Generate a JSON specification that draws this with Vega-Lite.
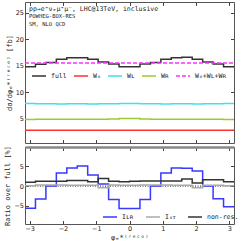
{
  "$schema": "https://vega.github.io/schema/vega-lite/v6.json",
  "padding": {"left": 3, "top": 1, "right": 3, "bottom": 2},
  "background": "white",
  "spacing": 0,
  "datasets": {
    "bins": [
      {"bin": 1, "x0": -3.1416, "x1": -2.8274, "full": 14.8, "W0": 2.8, "WL": 7.85, "WR": 4.85, "sum": 15.5, "ILR": -5.6, "I0T": 0.1, "nonres": 1.0},
      {"bin": 2, "x0": -2.8274, "x1": -2.5133, "full": 15.25, "W0": 2.8, "WL": 7.8, "WR": 4.9, "sum": 15.5, "ILR": -3.25, "I0T": 0.3, "nonres": 1.25},
      {"bin": 3, "x0": -2.5133, "x1": -2.1991, "full": 15.6, "W0": 2.8, "WL": 7.8, "WR": 4.9, "sum": 15.5, "ILR": 0.0, "I0T": 0.3, "nonres": 1.25},
      {"bin": 4, "x0": -2.1991, "x1": -1.885, "full": 16.2, "W0": 2.8, "WL": 7.75, "WR": 4.9, "sum": 15.5, "ILR": 3.3, "I0T": 0.3, "nonres": 1.25},
      {"bin": 5, "x0": -1.885, "x1": -1.5708, "full": 16.5, "W0": 2.8, "WL": 7.8, "WR": 4.9, "sum": 15.5, "ILR": 4.6, "I0T": 0.2, "nonres": 1.4},
      {"bin": 6, "x0": -1.5708, "x1": -1.2566, "full": 16.5, "W0": 2.8, "WL": 7.8, "WR": 4.9, "sum": 15.5, "ILR": 5.1, "I0T": 0.2, "nonres": 1.4},
      {"bin": 7, "x0": -1.2566, "x1": -0.9425, "full": 16.2, "W0": 2.8, "WL": 7.75, "WR": 4.9, "sum": 15.5, "ILR": 2.8, "I0T": 0.2, "nonres": 1.1},
      {"bin": 8, "x0": -0.9425, "x1": -0.6283, "full": 15.7, "W0": 2.8, "WL": 7.8, "WR": 4.9, "sum": 15.5, "ILR": 0.5, "I0T": -0.4, "nonres": 1.9},
      {"bin": 9, "x0": -0.6283, "x1": -0.3142, "full": 15.3, "W0": 2.8, "WL": 7.8, "WR": 4.95, "sum": 15.5, "ILR": -3.4, "I0T": 0.3, "nonres": 1.2},
      {"bin": 10, "x0": -0.3142, "x1": 0.0, "full": 14.8, "W0": 2.8, "WL": 7.85, "WR": 5.0, "sum": 15.5, "ILR": -5.7, "I0T": 0.2, "nonres": 1.1},
      {"bin": 11, "x0": 0.0, "x1": 0.3142, "full": 14.8, "W0": 2.8, "WL": 7.85, "WR": 5.0, "sum": 15.5, "ILR": -5.7, "I0T": 0.2, "nonres": 1.2},
      {"bin": 12, "x0": 0.3142, "x1": 0.6283, "full": 15.3, "W0": 2.8, "WL": 7.8, "WR": 4.95, "sum": 15.5, "ILR": -3.4, "I0T": 0.3, "nonres": 1.3},
      {"bin": 13, "x0": 0.6283, "x1": 0.9425, "full": 15.6, "W0": 2.8, "WL": 7.8, "WR": 4.9, "sum": 15.5, "ILR": 0.0, "I0T": 0.3, "nonres": 1.3},
      {"bin": 14, "x0": 0.9425, "x1": 1.2566, "full": 16.2, "W0": 2.8, "WL": 7.75, "WR": 4.9, "sum": 15.5, "ILR": 3.3, "I0T": 0.3, "nonres": 1.3},
      {"bin": 15, "x0": 1.2566, "x1": 1.5708, "full": 16.5, "W0": 2.8, "WL": 7.8, "WR": 4.9, "sum": 15.5, "ILR": 4.6, "I0T": 0.2, "nonres": 1.3},
      {"bin": 16, "x0": 1.5708, "x1": 1.885, "full": 16.6, "W0": 2.8, "WL": 7.8, "WR": 4.9, "sum": 15.5, "ILR": 4.5, "I0T": 0.2, "nonres": 1.8},
      {"bin": 17, "x0": 1.885, "x1": 2.1991, "full": 16.2, "W0": 2.8, "WL": 7.75, "WR": 4.9, "sum": 15.5, "ILR": 3.8, "I0T": -0.4, "nonres": 0.8},
      {"bin": 18, "x0": 2.1991, "x1": 2.5133, "full": 15.7, "W0": 2.8, "WL": 7.8, "WR": 4.9, "sum": 15.5, "ILR": 0.0, "I0T": 0.2, "nonres": 1.6},
      {"bin": 19, "x0": 2.5133, "x1": 2.8274, "full": 15.3, "W0": 2.8, "WL": 7.8, "WR": 4.9, "sum": 15.5, "ILR": -3.2, "I0T": 0.2, "nonres": 1.6},
      {"bin": 20, "x0": 2.8274, "x1": 3.1416, "full": 14.8, "W0": 2.8, "WL": 7.85, "WR": 4.85, "sum": 15.5, "ILR": -5.2, "I0T": 0.1, "nonres": 1.1}
    ]
  },
  "config": {
    "font": "DejaVu Sans",
    "view": {"stroke": "#555", "strokeWidth": 1},
    "axis": {
      "domain": false, "grid": false, "tickSize": -3.5, "tickColor": "#444", "tickWidth": 1,
      "labelFont": "DejaVu Sans", "labelFontSize": 6.5, "labelColor": "#222", "labelPadding": 5,
      "titleFont": "DejaVu Sans Mono", "titleFontSize": 7, "titleFontWeight": "normal", "titleColor": "#222"
    },
    "legend": {
      "symbolType": "stroke", "symbolSize": 196, "symbolStrokeWidth": 1.5,
      "labelFont": "DejaVu Sans Mono", "labelFontSize": 6.5, "labelColor": "#222",
      "columnPadding": 4, "labelOffset": 4, "padding": 0, "gridAlign": "none"
    }
  },
  "resolve": {
    "scale": {"color": "independent", "strokeDash": "independent"},
    "legend": {"color": "independent", "strokeDash": "independent"}
  },
  "vconcat": [
    {
      "width": 209,
      "height": 141,
      "data": {"name": "bins"},
      "transform": [
        {"fold": ["full", "W0", "WL", "WR", "sum"], "as": ["series", "value"]},
        {"fold": ["x0", "x1"], "as": ["edge", "x"]}
      ],
      "title": {
        "text": "pp→e⁺νₑμ⁺μ⁻, LHC@13TeV, inclusive",
        "subtitle": ["POWHEG-BOX-RES", "SM, NLO QCD"],
        "anchor": "start", "frame": "group", "offset": -26, "dx": 4,
        "font": "DejaVu Sans Mono", "fontSize": 6.5, "fontWeight": "normal", "color": "#222",
        "subtitleFont": "DejaVu Sans Mono", "subtitleFontSize": 5.5, "subtitleColor": "#222",
        "subtitlePadding": 2, "subtitleLineHeight": 8
      },
      "resolve": {
        "scale": {"x": "independent", "y": "independent"},
        "axis": {"x": "independent", "y": "independent"}
      },
      "layer": [
        {
          "transform": [{"filter": "datum.series !== 'sum'"}],
          "mark": {"type": "line", "strokeWidth": 1.5, "strokeJoin": "miter"},
          "encoding": {
            "x": {"field": "x", "type": "quantitative",
                  "scale": {"domain": [-3.1416, 3.1416], "nice": false, "zero": false},
                  "axis": {"orient": "bottom", "values": [-3, -2, -1, 0, 1, 2, 3], "labels": false, "title": null}},
            "y": {"field": "value", "type": "quantitative",
                  "scale": {"domain": [0.4, 27], "nice": false, "zero": false},
                  "axis": {"orient": "left", "values": [5, 10, 15, 20, 25], "title": "dσ/dφₑ*⁽ʳᵉᶜᵒ⁾ [fb]", "titlePadding": 3}},
            "color": {"field": "series", "type": "nominal",
                      "scale": {"domain": ["full", "W0", "WL", "WR", "sum"], "range": ["#333333", "#ff3030", "#40e0f0", "#99cc33", "#ff30ff"]},
                      "legend": {"orient": "none", "legendX": 6, "legendY": 66, "direction": "horizontal", "columns": 5, "title": null,
                                 "labelExpr": "{'full': 'full', 'W0': 'W₀', 'WL': 'Wʟ', 'WR': 'Wʀ', 'sum': 'W₀+Wʟ+Wʀ'}[datum.label]"}},
            "strokeDash": {"field": "series", "type": "nominal",
                           "scale": {"domain": ["full", "W0", "WL", "WR", "sum"], "range": [[1, 0], [1, 0], [1, 0], [1, 0], [4, 2]]},
                           "legend": {"orient": "none", "legendX": 6, "legendY": 66, "direction": "horizontal", "columns": 5, "title": null,
                                 "labelExpr": "{'full': 'full', 'W0': 'W₀', 'WL': 'Wʟ', 'WR': 'Wʀ', 'sum': 'W₀+Wʟ+Wʀ'}[datum.label]"}},
            "order": [{"field": "bin", "type": "quantitative"}, {"field": "edge", "type": "ordinal"}]
          }
        },
        {
          "transform": [{"filter": "datum.series === 'sum'"}],
          "mark": {"type": "line", "strokeWidth": 1.5},
          "encoding": {
            "x": {"field": "x", "type": "quantitative",
                  "scale": {"domain": [-3.1416, 3.1416], "nice": false, "zero": false},
                  "axis": {"orient": "top", "values": [-3, -2, -1, 0, 1, 2, 3], "labels": false, "title": null}},
            "y": {"field": "value", "type": "quantitative",
                  "scale": {"domain": [0.4, 27], "nice": false, "zero": false},
                  "axis": {"orient": "right", "values": [5, 10, 15, 20, 25], "labels": false, "title": null}},
            "color": {"field": "series", "type": "nominal"},
            "strokeDash": {"field": "series", "type": "nominal"},
            "order": [{"field": "bin", "type": "quantitative"}, {"field": "edge", "type": "ordinal"}]
          }
        }
      ]
    },
    {
      "width": 209,
      "height": 77,
      "data": {"name": "bins"},
      "resolve": {
        "scale": {"x": "independent", "y": "independent"},
        "axis": {"x": "independent", "y": "independent"}
      },
      "layer": [
        {
          "transform": [{"filter": "datum.bin === 1"}],
          "mark": {"type": "rule", "strokeDash": [1, 1.5], "color": "#222", "strokeWidth": 1},
          "encoding": {
            "x": {"datum": -3.1416, "type": "quantitative",
                  "scale": {"domain": [-3.1416, 3.1416], "nice": false, "zero": false},
                  "axis": {"orient": "top", "values": [-3, -2, -1, 0, 1, 2, 3], "labels": false, "title": null,
                           "domain": true, "domainColor": "#888", "domainWidth": 2.5}},
            "x2": {"datum": 3.1416},
            "y": {"datum": 0, "type": "quantitative",
                  "scale": {"domain": [-9.6, 9.9], "nice": false, "zero": false},
                  "axis": {"orient": "right", "values": [-5, 0, 5], "labels": false, "title": null}}
          }
        },
        {
          "transform": [
            {"fold": ["ILR", "I0T", "nonres"], "as": ["series", "value"]},
            {"fold": ["x0", "x1"], "as": ["edge", "x"]}
          ],
          "mark": {"type": "line", "strokeWidth": 1.5, "strokeJoin": "miter"},
          "encoding": {
            "x": {"field": "x", "type": "quantitative",
                  "scale": {"domain": [-3.1416, 3.1416], "nice": false, "zero": false},
                  "axis": {"orient": "bottom", "values": [-3, -2, -1, 0, 1, 2, 3], "title": "φₑ*⁽ʳᵉᶜᵒ⁾", "titlePadding": 1}},
            "y": {"field": "value", "type": "quantitative",
                  "scale": {"domain": [-9.6, 9.9], "nice": false, "zero": false},
                  "axis": {"orient": "left", "values": [-5, 0, 5], "title": "Ratio over full [%]", "titlePadding": 3}},
            "color": {"field": "series", "type": "nominal",
                      "scale": {"domain": ["ILR", "I0T", "nonres"], "range": ["#3838ff", "#aaaaaa", "#333333"]},
                      "legend": {"orient": "none", "legendX": 77, "legendY": 62, "direction": "horizontal", "columns": 3, "title": null,
                                 "columnPadding": 9,
                                 "labelExpr": "{'ILR': 'Iʟʀ', 'I0T': 'I₀ᴛ', 'nonres': 'non-res.'}[datum.label]"}},
            "order": [{"field": "bin", "type": "quantitative"}, {"field": "edge", "type": "ordinal"}]
          }
        }
      ]
    }
  ]
}
